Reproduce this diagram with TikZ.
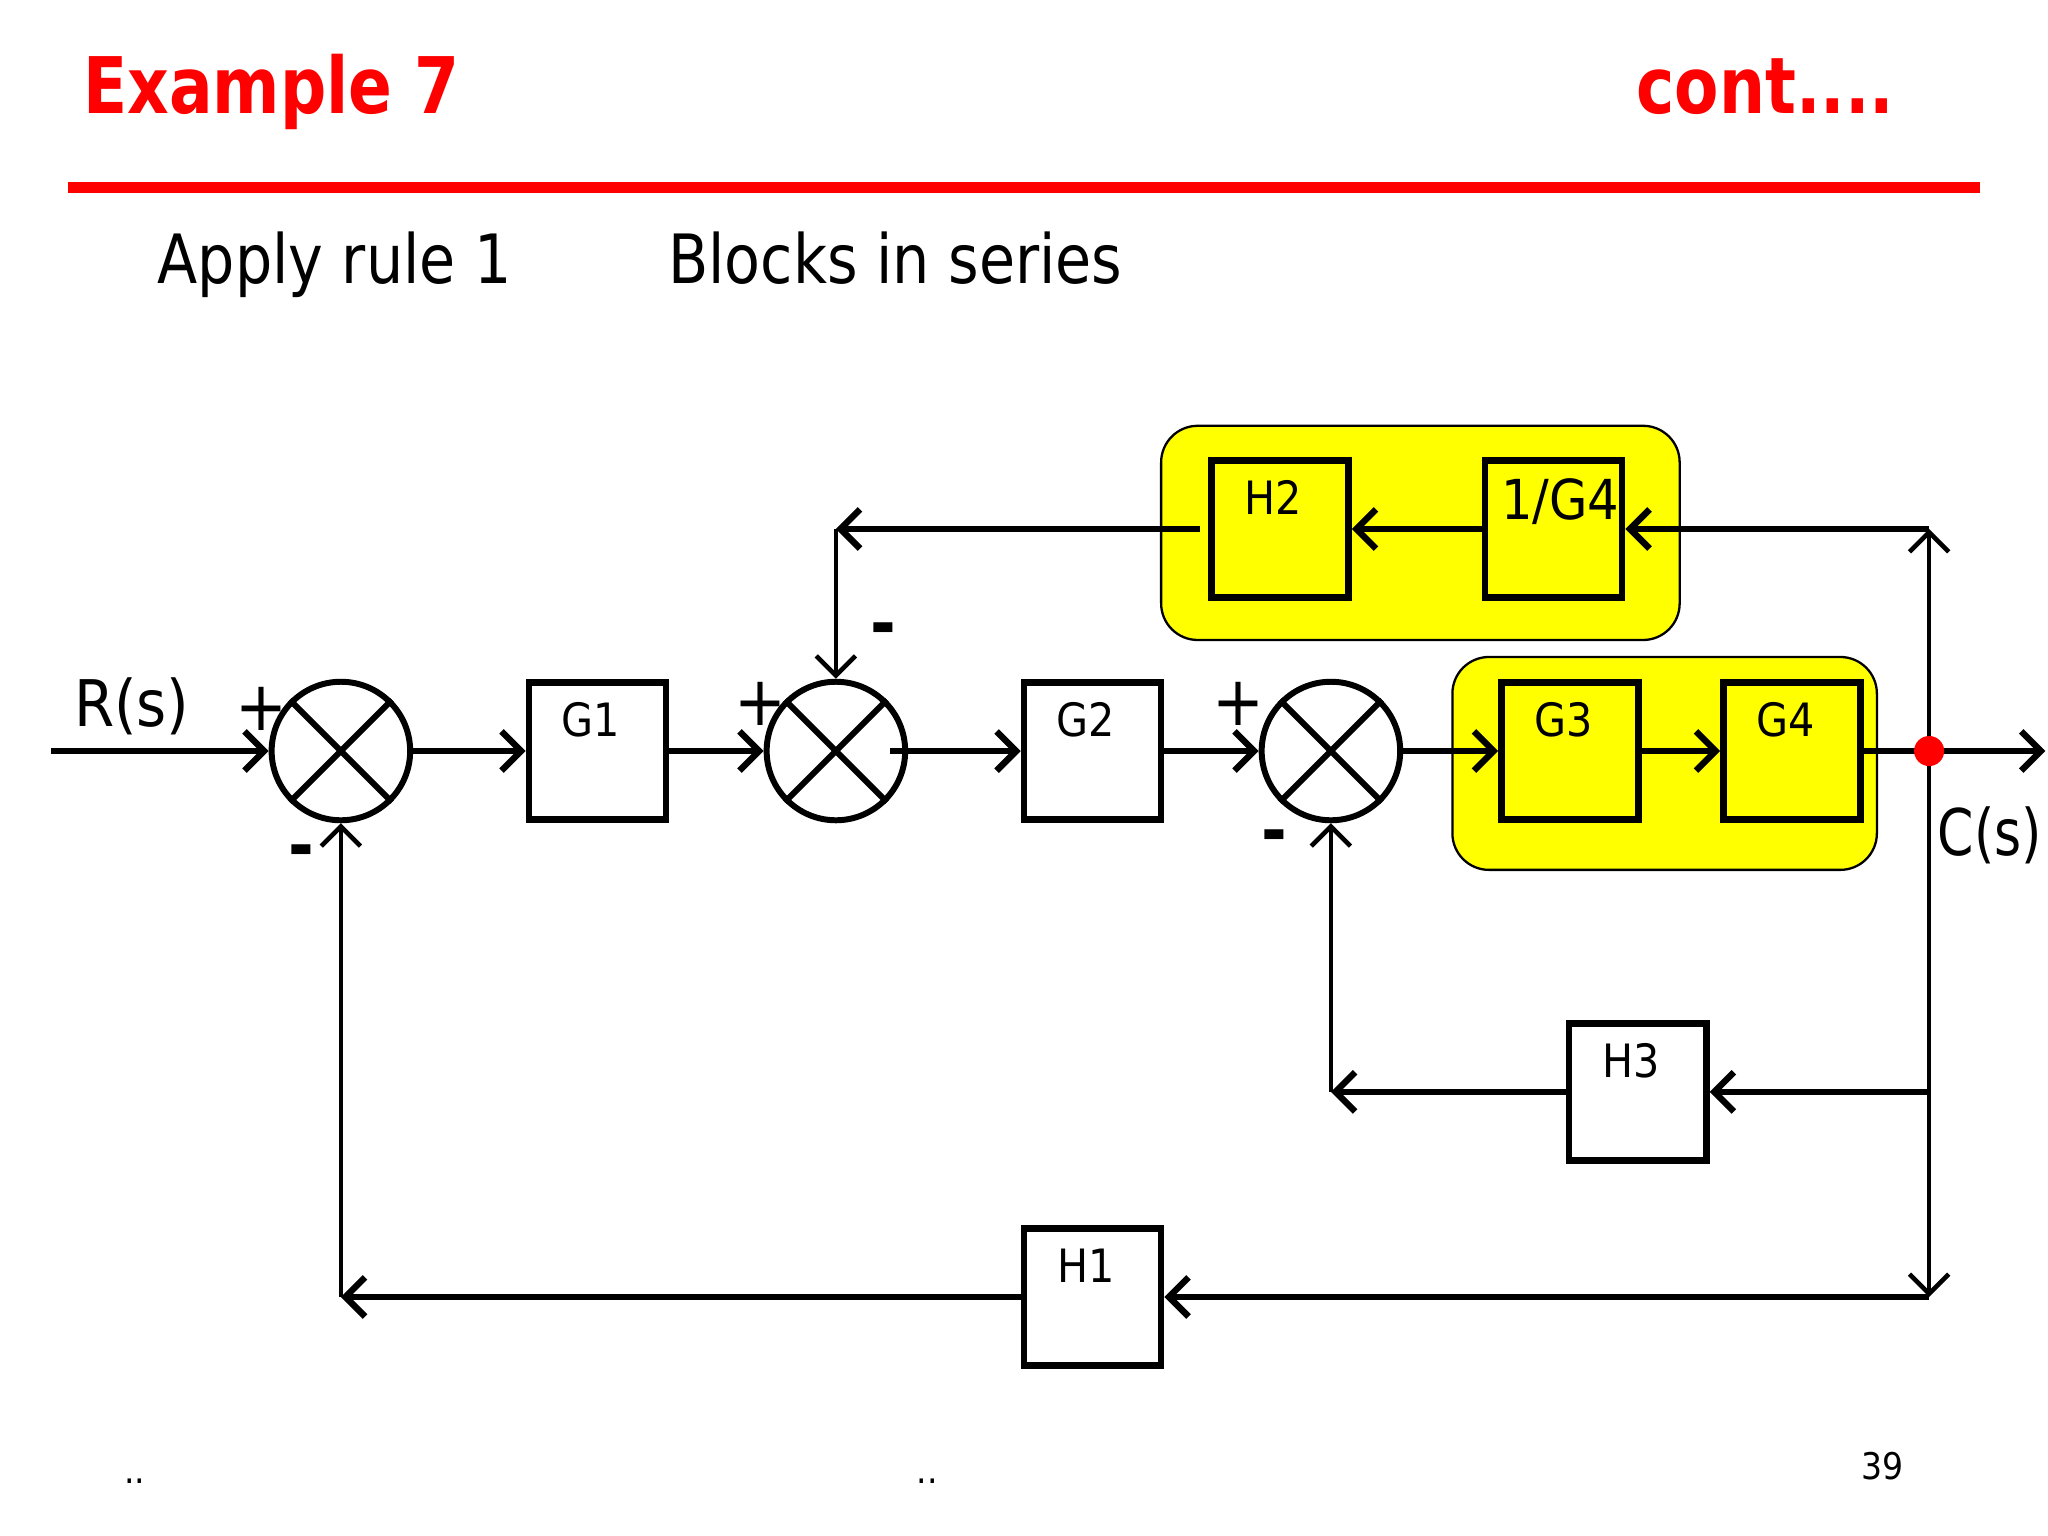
\documentclass[tikz,border=0pt]{standalone}
\usepackage{fontspec}
\setmainfont{DejaVu Sans Condensed}
\usepackage{graphicx}
\usepackage{tikz}
\usetikzlibrary{calc,arrows.meta}
\definecolor{titlered}{RGB}{255,0,0}
\definecolor{hilite}{RGB}{255,255,0}
\tikzset{
  blk/.style={draw,line width=1.4pt,minimum width=1.05cm,minimum height=1.05cm,inner sep=0pt,
    font=\fontsize{10}{10}\selectfont,text height=0.25cm,text depth=0.47cm},
  sum/.style={draw,circle,line width=1.3pt,minimum size=1.06cm,inner sep=0pt},
  sig/.style={font=\fontsize{15}{15}\selectfont,inner sep=0pt},
  wire/.style={line width=1.4pt,-{Straight Barb[length=0.15cm,width=0.3cm]}},
  vwire/.style={wire,line width=1pt}
}
\begin{document}
\begin{tikzpicture}[x=0.01cm,y=-0.01cm]
                      \useasboundingbox (0,0) rectangle (1568,1176);
                      \node[anchor=base west,inner sep=0pt,text=titlered,font=\bfseries\fontsize{17}{17}\selectfont](title)at(63,87){\scalebox{0.92}[1]{Example 7}};
                      \node[anchor=base east,inner sep=0pt,text=titlered,font=\bfseries\fontsize{17}{17}\selectfont](cont)at(1451,87){\scalebox{0.92}[1]{cont....}};
                      \draw[titlered,line width=2.4pt] (52,143.5) -- (1516,143.5);
                      \node[anchor=base west,inner sep=0pt,font=\fontsize{14.8}{15}\selectfont](rule)at(120,217){\scalebox{0.96}[1]{Apply rule 1}};
                      \node[anchor=base west,inner sep=0pt,font=\fontsize{14.8}{15}\selectfont](series)at(511,217){\scalebox{0.96}[1]{Blocks in series}};
                      \draw[fill=hilite,rounded corners=0.28cm,line width=0.5pt] (889,326) rectangle (1286,490);
                      \draw[fill=hilite,rounded corners=0.28cm,line width=0.5pt] (1112,503) rectangle (1437,666);
                      \node[sum](s1)at(261,575){};
                      \node[blk](g1)at(457.5,575){\hspace*{-0.1cm}G1};
                      \node[sum](s2)at(640,575){};
                      \node[blk](g2)at(836.5,575){\hspace*{-0.1cm}G2};
                      \node[sum](s3)at(1019,575){};
                      \node[blk,fill=hilite](g3)at(1202,575){\hspace*{-0.1cm}G3};
                      \node[blk,fill=hilite](g4)at(1372,575){\hspace*{-0.1cm}G4};
                      \node[blk,fill=hilite](h2)at(980,405){\hspace*{-0.1cm}H2};
                      \node[blk,fill=hilite,font=\fontsize{12}{12}\selectfont,text height=0.31cm,text depth=0.45cm](ig4)at(1189.5,405){\hspace*{0.1cm}1/G4};
                      \node[blk](h3)at(1254,836){\hspace*{-0.1cm}H3};
                      \node[blk](h1)at(836.5,993){\hspace*{-0.1cm}H1};
                      \foreach \s in {s1,s2,s3}
                        \draw[line width=1.3pt] (\s.north east) -- (\s.south west) (\s.north west) -- (\s.south east);
                      \coordinate(in)at(39,575);
                      \coordinate(out)at(1566,575);
                      \coordinate(tap)at(1477,575);
                      \coordinate(top)at(1477,405);
                      \coordinate(mid)at(1477,836);
                      \coordinate(bot)at(1477,993);
                      \coordinate(c1)at(261,993);
                      \coordinate(c2)at(640,405);
                      \coordinate(c3)at(1019,836);
                      \draw[wire] (in) -- (s1);
                      \draw[wire] (s1) -- (g1);
                      \draw[wire] (g1) -- (s2);
                      \draw[wire] ([xshift=-0.14cm]s2.east) -- (g2);
                      \draw[wire] (g2) -- (s3);
                      \draw[wire] (s3) -- (g3);
                      \draw[wire] (g3) -- (g4);
                      \draw[wire] (g4) -- (out);
                      \draw[vwire] (tap) -- (top);
                      \draw[vwire] (tap) -- (bot);
                      \draw[wire] (top) -- (ig4);
                      \draw[wire] (ig4) -- (h2);
                      \draw[wire] ([xshift=-0.06cm]h2.west) -- (c2);
                      \draw[vwire] (c2) -- (s2);
                      \draw[wire] (mid) -- (h3);
                      \draw[wire] (h3) -- (c3);
                      \draw[vwire] (c3) -- (s3);
                      \draw[wire] (bot) -- (h1);
                      \draw[wire] (h1) -- (c1);
                      \draw[vwire] (c1) -- (s1);
                      \node[circle,fill=titlered,inner sep=0pt,minimum size=0.23cm](dot)at(tap){};
                      \node[sig](p1)at(200,543){+};
                      \node[sig,font=\bfseries\fontsize{15}{15}\selectfont](m1)at(231,656){-};
                      \node[sig](p2)at(582,539){+};
                      \node[sig,font=\bfseries\fontsize{15}{15}\selectfont](m2)at(676,486){-};
                      \node[sig](p3)at(948,539){+};
                      \node[sig,font=\bfseries\fontsize{15}{15}\selectfont](m3)at(976,645){-};
                      \node[anchor=base west,inner sep=0pt,font=\fontsize{14}{14}\selectfont](rs)at(56,556){R(s)};
                      \node[anchor=base east,inner sep=0pt,font=\fontsize{14}{14}\selectfont](cs)at(1564,655){\scalebox{0.9}[1]{C(s)}};
                      \node[anchor=base,inner sep=0pt,font=\fontsize{8}{8}\selectfont](pg)at(1441,1133){39};
                      \node[anchor=base,inner sep=0pt,font=\fontsize{8}{8}\selectfont](d1)at(103,1136){..};
                      \node[anchor=base,inner sep=0pt,font=\fontsize{8}{8}\selectfont](d2)at(710,1136){..};
                  \end{tikzpicture}
\end{document}
